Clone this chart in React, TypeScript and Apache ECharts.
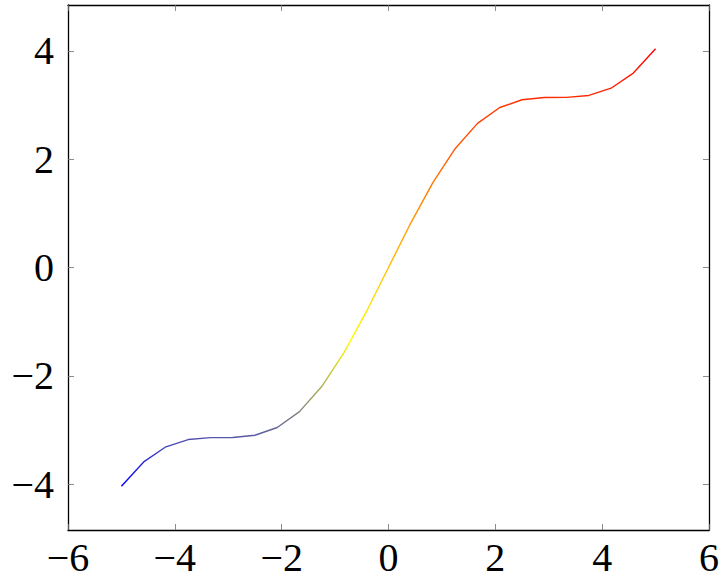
import React, { useEffect, useRef } from "react";
import * as echarts from "echarts";

const xValues = [-5, -4.5833, -4.1667, -3.75, -3.3333, -2.9167, -2.5, -2.0833, -1.6667, -1.25, -0.8333, -0.4167, 0, 0.4167, 0.8333, 1.25, 1.6667, 2.0833, 2.5, 2.9167, 3.3333, 3.75, 4.1667, 4.5833, 5];
const yValues = [-4.041, -3.592, -3.312, -3.178, -3.143, -3.140, -3.099, -2.955, -2.662, -2.199, -1.573, -0.821, 0, 0.821, 1.573, 2.199, 2.662, 2.955, 3.099, 3.140, 3.143, 3.178, 3.312, 3.592, 4.041];
const colorStops = ["#0000ff", "#ffff00", "#ff8000", "#ff0000"];
const yTicks = [-4, -2, 0, 2, 4];

const fmt = (v: number) => (v < 0 ? "\u2212" + Math.abs(v) : String(v));

export default function App() {
  const ref = useRef<HTMLDivElement>(null);
  useEffect(() => {
    if (!ref.current) return;
    const chart = echarts.init(ref.current, null, { renderer: "svg" });
    const font = "'Liberation Serif', 'DejaVu Serif', serif";
    const tick = { show: true, inside: true, length: 6, lineStyle: { color: "#6e6e6e", width: 0.8 } };
    const line = { show: true, onZero: false, lineStyle: { color: "#000", width: 1.3 } };
    const label = { color: "#000", fontFamily: font, fontSize: 40, formatter: fmt };
    chart.setOption({
      animation: false,
      backgroundColor: "#fff",
      grid: { left: 68, right: 13, top: 5, bottom: 48, containLabel: false },
      visualMap: {
        show: false,
        type: "continuous",
        dimension: 1,
        seriesIndex: 0,
        min: -4.041,
        max: 4.041,
        inRange: { color: colorStops },
      },
      xAxis: [
        {
          type: "value", min: -6, max: 6, interval: 2, position: "bottom",
          axisLine: line, axisTick: tick, splitLine: { show: false },
          axisLabel: { ...label, margin: 7 },
        },
        {
          type: "value", min: -6, max: 6, interval: 2, position: "top",
          axisLine: line, axisTick: tick, splitLine: { show: false },
          axisLabel: { show: false },
        },
      ],
      yAxis: [
        {
          type: "value", min: -4.849, max: 4.849, position: "left",
          axisLine: line, axisTick: { ...tick, customValues: yTicks }, splitLine: { show: false },
          axisLabel: { ...label, margin: 14, customValues: yTicks },
        },
        {
          type: "value", min: -4.849, max: 4.849, position: "right",
          axisLine: line, axisTick: { ...tick, customValues: yTicks }, splitLine: { show: false },
          axisLabel: { show: false },
        },
      ],
      series: [
        {
          type: "line",
          data: xValues.map((x, i) => [x, yValues[i]]),
          showSymbol: false,
          symbol: "none",
          lineStyle: { width: 1.4 },
          xAxisIndex: 0,
          yAxisIndex: 0,
        },
      ],
    });
    return () => chart.dispose();
  }, []);
  return <div ref={ref} style={{ position: "fixed", left: 0, top: 0, width: 722, height: 578 }} />;
}
